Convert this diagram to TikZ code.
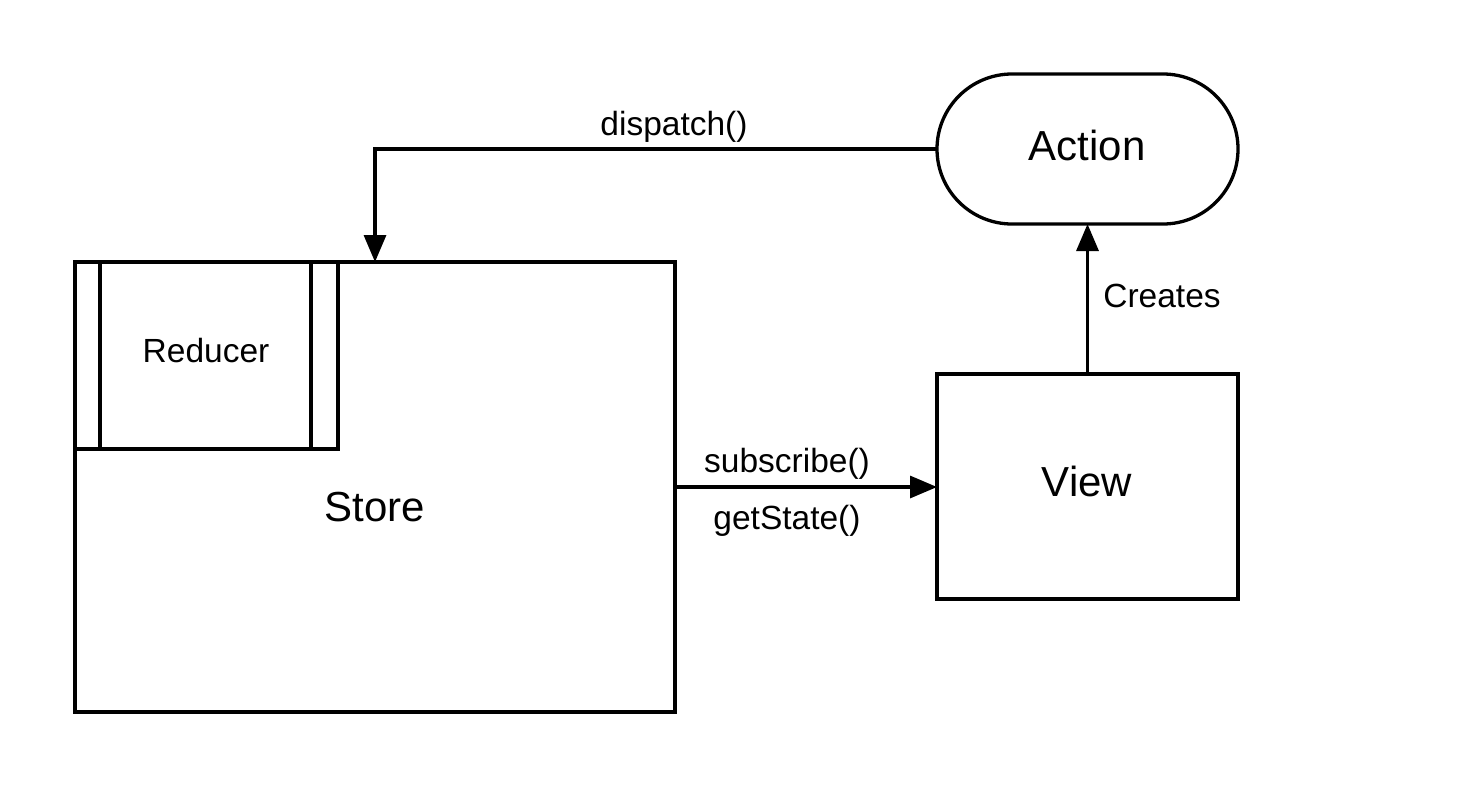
\documentclass[tikz,border=0pt]{standalone}
\usepackage{fontspec}
\setmainfont{Liberation Sans}
\usetikzlibrary{arrows.meta}
\begin{document}
\begin{tikzpicture}[x=1pt,y=-1pt,
  box/.style={draw,line width=3.3pt,inner sep=0pt,outer sep=0pt},
  big/.style={font=\fontsize{42}{48}\selectfont},
  small/.style={font=\fontsize{33.5}{38}\selectfont},
  conn/.style={line width=3.3pt,-{Triangle[length=27pt,width=22pt]}}]
\useasboundingbox (0,0) rectangle (1463,788);
% Store
\node[box,minimum width=600pt,minimum height=450pt] (store) at (375,487) {};
\node[big] (storelbl) at (375,507) {Store};
% Reducer (subroutine box)
\node[box,minimum width=263pt,minimum height=187pt] (reducerbox) at (206.5,355.5) {};
\draw[line width=3.3pt] ([xshift=25pt]reducerbox.north west) -- ([xshift=25pt]reducerbox.south west)
  ([xshift=-27pt]reducerbox.north east) -- ([xshift=-27pt]reducerbox.south east);
\node[small] (reducer) at (206,351) {Reducer};
% Action
\node[box,rounded corners=75pt,minimum width=301pt,minimum height=150pt] (action) at (1087.5,149) {};
\node[big] (actionlbl) at (1087,145) {Action};
% View
\node[box,minimum width=301pt,minimum height=225pt] (view) at (1087.5,486.5) {};
\node[big] (viewlbl) at (1087,481) {View};
% connectors
\draw[conn] (action.west) -| (store.north);
\node[small] (disp) at (674,127) {dispatch()};
\draw[conn] (view.north) -- (action.south);
\node[small] (creates) at (1162,296) {Creates};
\draw[conn] (store.east) -- (store.east -| view.west);
\node[small] (sub) at (787,464) {subscribe()};
\node[small] (get) at (787,521) {getState()};
\end{tikzpicture}
\end{document}
